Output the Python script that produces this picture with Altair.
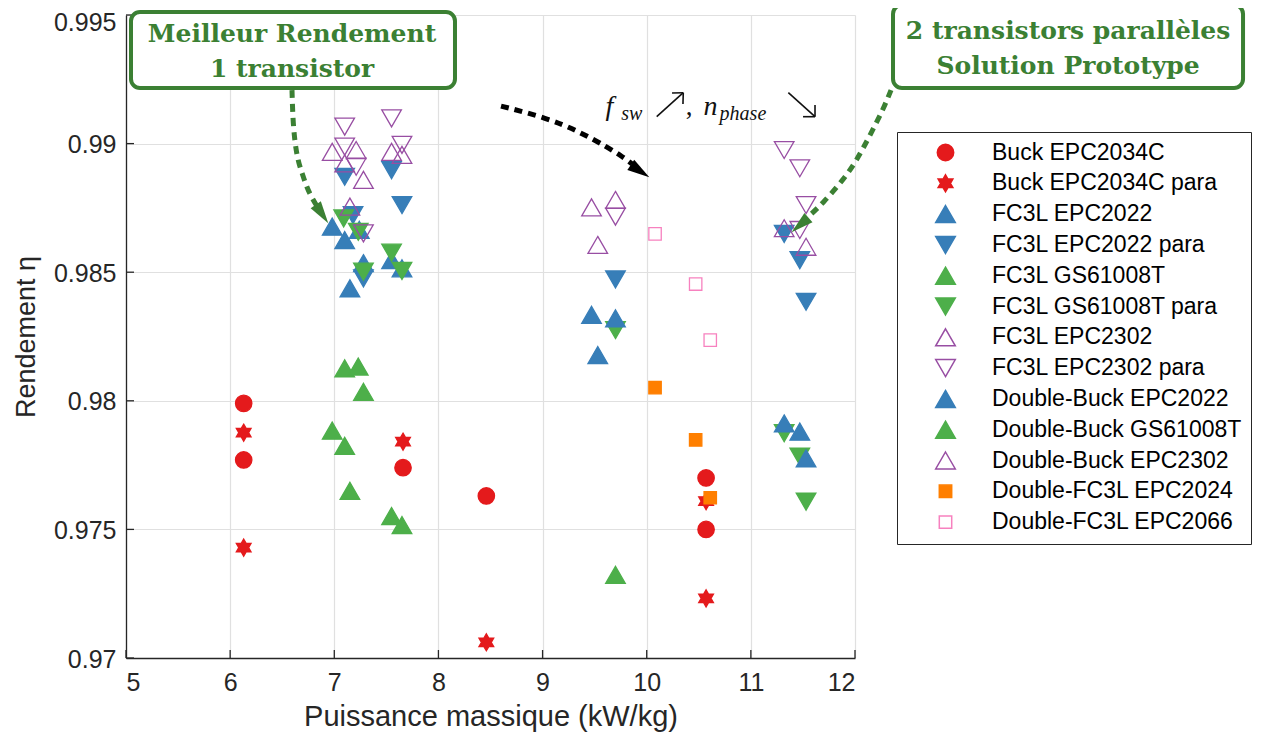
import altair as alt
import pandas as pd

# ---------------- data ----------------
series_names = [
    "Buck EPC2034C", "Buck EPC2034C para", "FC3L EPC2022", "FC3L EPC2022 para",
    "FC3L GS61008T", "FC3L GS61008T para", "FC3L EPC2302", "FC3L EPC2302 para",
    "Double-Buck EPC2022", "Double-Buck GS61008T", "Double-Buck EPC2302",
    "Double-FC3L EPC2024", "Double-FC3L EPC2066",
]

buck_x = [6.13, 6.13, 7.66, 8.46, 10.57, 10.57]
buck_y = [0.9799, 0.9777, 0.9774, 0.9763, 0.9770, 0.9750]
buck_para_x = [6.13, 6.13, 7.66, 8.46, 10.57, 10.57]
buck_para_y = [0.97876, 0.97429, 0.97841, 0.97061, 0.97610, 0.97232]
fc3l_2022_x = [6.98, 7.10, 7.24, 7.28, 7.15, 7.55, 7.65]
fc3l_2022_y = [0.98677, 0.98625, 0.98665, 0.98535, 0.98437, 0.98547, 0.98515]
fc3l_2022p_x = [7.10, 7.55, 7.65, 7.18, 7.28, 9.70, 11.32, 11.47, 11.53]
fc3l_2022p_y = [0.98871, 0.98897, 0.98761, 0.98722, 0.98476, 0.98472, 0.98649, 0.98547, 0.98385]
fc3l_gs_x = [7.10, 7.23, 7.28, 6.98, 7.10, 7.15, 7.55, 7.65]
fc3l_gs_y = [0.98126, 0.98133, 0.98035, 0.97884, 0.97825, 0.97650, 0.97552, 0.97517]
fc3l_gsp_x = [7.09, 7.23, 7.28, 7.55, 7.65, 9.70, 11.32, 11.47, 11.53]
fc3l_gsp_y = [0.98709, 0.98657, 0.98502, 0.98576, 0.98505, 0.98275, 0.97874, 0.97783, 0.97608]
fc3l_2302_x = [6.98, 7.21, 7.10, 7.28, 7.55, 7.65, 7.15]
fc3l_2302_y = [0.98968, 0.98975, 0.98923, 0.98859, 0.98968, 0.98956, 0.98755]
fc3l_2302p_x = [7.10, 7.55, 7.10, 7.21, 7.65, 7.28, 9.70, 11.32, 11.47, 11.53, 11.47]
fc3l_2302p_y = [0.99066, 0.99098, 0.98988, 0.98910, 0.98995, 0.98651, 0.98716, 0.98975, 0.98904, 0.98761, 0.98664]
db_2022_x = [9.47, 9.70, 9.53, 11.32, 11.47, 11.53]
db_2022_y = [0.98334, 0.98321, 0.98178, 0.97912, 0.97880, 0.97776]
db_gs_x = [9.70]
db_gs_y = [0.97323]
db_2302_x = [9.47, 9.70, 9.53, 11.32, 11.53]
db_2302_y = [0.98752, 0.98781, 0.98606, 0.98671, 0.98599]
dfc_2024_x = [10.08, 10.47, 10.61]
dfc_2024_y = [0.98051, 0.97848, 0.97623]
dfc_2066_x = [10.08, 10.47, 10.61]
dfc_2066_y = [0.98649, 0.98454, 0.98236]

x_ticks = [5, 6, 7, 8, 9, 10, 11, 12]
y_ticks = [0.97, 0.975, 0.98, 0.985, 0.99, 0.995]

all_x = [buck_x, buck_para_x, fc3l_2022_x, fc3l_2022p_x, fc3l_gs_x, fc3l_gsp_x,
         fc3l_2302_x, fc3l_2302p_x, db_2022_x, db_gs_x, db_2302_x, dfc_2024_x, dfc_2066_x]
all_y = [buck_y, buck_para_y, fc3l_2022_y, fc3l_2022p_y, fc3l_gs_y, fc3l_gsp_y,
         fc3l_2302_y, fc3l_2302p_y, db_2022_y, db_gs_y, db_2302_y, dfc_2024_y, dfc_2066_y]

# ---------------- styles ----------------
RED, BLUE, GREEN, PURPLE, ORANGE, PINK = "#e41a1c", "#377eb8", "#4daf4a", "#984ea3", "#ff7f00", "#f781bf"
DKGREEN = "#3b8033"

CIRCLE = "M0.82,0A0.82,0.82,0,1,1,-0.82,0A0.82,0.82,0,1,1,0.82,0Z"
HEXA = ("M0,-0.85L0.245,-0.425L0.736,-0.425L0.491,0L0.736,0.425L0.245,0.425"
        "L0,0.85L-0.245,0.425L-0.736,0.425L-0.491,0L-0.736,-0.425L-0.245,-0.425Z")
TUP = "M0,-0.85L0.98,0.85L-0.98,0.85Z"
TDN = "M0,0.85L0.98,-0.85L-0.98,-0.85Z"
SQ = "M-0.62,-0.62L0.62,-0.62L0.62,0.62L-0.62,0.62Z"

shapes = [CIRCLE, HEXA, TUP, TDN, TUP, TDN, TUP, TDN, TUP, TUP, TUP, SQ, SQ]
strokes = [RED, RED, BLUE, BLUE, GREEN, GREEN, PURPLE, PURPLE, BLUE, GREEN, PURPLE, ORANGE, PINK]
fills = [RED, RED, BLUE, BLUE, GREEN, GREEN, "transparent", "transparent", BLUE, GREEN,
         "transparent", ORANGE, "transparent"]

rows = []
for name, xs, ys in zip(series_names, all_x, all_y):
    for xv, yv in zip(xs, ys):
        rows.append({"series": name, "x": xv, "y": yv})
df = pd.DataFrame(rows)

FONT = "Liberation Sans"
TXT = "#262626"
XTITLE = "Puissance massique (kW/kg)"
YTITLE = "Rendement η"
xsc = alt.Scale(domain=[5, 12], nice=False, zero=False)
ysc = alt.Scale(domain=[0.97, 0.995], nice=False, zero=False)
xaxis = alt.Axis(values=x_ticks, format="d", labelFont=FONT, labelFontSize=25,
                 labelColor=TXT, titleFont=FONT, titleFontSize=29,
                 titleFontWeight="normal", titleColor=TXT, tickSize=0,
                 labelPadding=12, titlePadding=7, domainColor=TXT,
                 domainWidth=1.3, gridColor="#e0e0e0", gridWidth=1.2)
yaxis = alt.Axis(values=y_ticks, format=".3~f", labelFont=FONT, labelFontSize=25,
                 labelColor=TXT, titleFont=FONT, titleFontSize=27,
                 titleFontWeight="normal", titleColor=TXT, tickSize=0,
                 labelOffset={"condition": {"test": "datum.value >= 0.994", "value": 7}, "value": 1},
                 labelPadding=10, titlePadding=13, domainColor=TXT,
                 domainWidth=1.3, gridColor="#e0e0e0", gridWidth=1.2)


def X(field):
    return alt.X(field, scale=xsc, axis=xaxis, title=XTITLE)


def Y(field):
    return alt.Y(field, scale=ysc, axis=yaxis, title=YTITLE)


leg = alt.Legend(
    orient="none", legendX=771, legendY=117, title=None, direction="vertical",
    labelFont=FONT, labelFontSize=23, labelColor="#000000", labelLimit=500,
    strokeColor=TXT, fillColor="white", padding=9, rowPadding=6.8,
    symbolOffset=28, labelOffset=35, symbolSize=400, symbolStrokeWidth=1.5,
)

points = alt.Chart(df).mark_point(opacity=1, strokeWidth=1.3, size=400).encode(
    x=X("x:Q"), y=Y("y:Q"),
    shape=alt.Shape("series:N", scale=alt.Scale(domain=series_names, range=shapes), legend=leg),
    fill=alt.Fill("series:N", scale=alt.Scale(domain=series_names, range=fills), legend=leg),
    stroke=alt.Stroke("series:N", scale=alt.Scale(domain=series_names, range=strokes), legend=leg),
)

# inward ticks
xt = alt.Chart(pd.DataFrame({"x": x_ticks})).mark_rule(color=TXT, strokeWidth=1.3).encode(
    x=X("x:Q"), y=alt.value(643), y2=alt.value(635))
yt = alt.Chart(pd.DataFrame({"y": y_ticks})).mark_rule(color=TXT, strokeWidth=1.3).encode(
    y=Y("y:Q"), x=alt.value(0), x2=alt.value(8))

# ---------------- annotations ----------------
box_x1 = [5.048, 12.365]
box_x2 = [8.159, 15.726]
box_y1 = [0.99512, 0.99539]
box_y2 = [0.99216, 0.99216]
boxes = alt.Chart(pd.DataFrame({"x": box_x1, "x2": box_x2, "y": box_y1, "y2": box_y2})).mark_rect(
    fill="white", stroke=DKGREEN, strokeWidth=4, cornerRadius=9).encode(
    x=X("x:Q"), x2="x2:Q", y=Y("y:Q"), y2="y2:Q")

box_text = ["Meilleur Rendement", "1 transistor", "2 transistors parallèles", "Solution Prototype"]
box_tx = [6.594, 6.594, 14.046, 14.046]
box_ty = [0.99425, 0.99290, 0.99437, 0.99302]
btext = alt.Chart(pd.DataFrame({"t": box_text, "x": box_tx, "y": box_ty})).mark_text(
    font="DejaVu Serif", fontWeight="bold", fontSize=25, color=DKGREEN,
    align="center", baseline="middle").encode(x=X("x:Q"), y=Y("y:Q"), text="t:N")

# dashed arrows
arr_id = ["a"] * 7 + ["b"] * 6 + ["c"] * 8
arr_x = [6.594, 6.604, 6.642, 6.690, 6.738, 6.796, 6.844,
         8.601, 9.043, 9.359, 9.619, 9.772, 9.859,
         12.346, 12.269, 12.144, 12.019, 11.885, 11.693, 11.568, 11.530]
arr_y = [0.99208, 0.99065, 0.98944, 0.98886, 0.98827, 0.98781, 0.98750,
         0.99146, 0.99100, 0.99045, 0.98987, 0.98948, 0.98921,
         0.99208, 0.99131, 0.99033, 0.98936, 0.98858, 0.98769, 0.98722, 0.98708]
arr_o = list(range(7)) + list(range(6)) + list(range(8))
arr_df = pd.DataFrame({"id": arr_id, "x": arr_x, "y": arr_y, "o": arr_o})
arr_color = alt.Color("id:N", scale=alt.Scale(domain=["a", "b", "c"], range=[DKGREEN, "#000000", DKGREEN]), legend=None)
arrows = alt.Chart(arr_df).mark_line(strokeWidth=5, strokeDash=[8, 6], interpolate="basis").encode(
    x=X("x:Q"), y=Y("y:Q"), detail="id:N", order="o:Q", color=arr_color)

head_x = [6.882, 9.936, 11.472]
head_y = [0.98726, 0.98893, 0.98684]
head_a = [146, 124, 229]
head_id = ["a", "b", "c"]
heads = alt.Chart(pd.DataFrame({"x": head_x, "y": head_y, "a": head_a, "id": head_id})).mark_point(
    shape="M0,-1L0.55,1L-0.55,1Z", size=500, filled=True, opacity=1).encode(
    x=X("x:Q"), y=Y("y:Q"), angle=alt.Angle("a:Q", scale=None), color=arr_color)

# math text: f_sw ↗, n_phase ↘
m_text = ["f", "sw", ",", "n", "phase"]
m_x = [9.605, 9.755, 10.375, 10.545, 10.700]
m_y = [0.99111, 0.99093, 0.99111, 0.99111, 0.99093]
m_size = [28, 20, 27, 28, 20]
m_style = ["italic", "italic", "normal", "italic", "italic"]
mparts = []
for t, xv, yv, s, st in zip(m_text, m_x, m_y, m_size, m_style):
    mparts.append(alt.Chart(pd.DataFrame({"t": [t], "x": [xv], "y": [yv]})).mark_text(
        font="Liberation Serif", fontSize=s, fontStyle=st, color="#111111", align="left",
        baseline="alphabetic").encode(x=X("x:Q"), y=Y("y:Q"), text="t:N"))

# thin math arrows (↗ and ↘) as segments
seg_id = ["u1", "u1", "u2", "u2", "u3", "u3", "d1", "d1", "d2", "d2", "d3", "d3"]
seg_x = [10.096, 10.351, 10.351, 10.243, 10.351, 10.348,
         11.360, 11.616, 11.616, 11.616, 11.616, 11.501]
seg_y = [0.991046, 0.991979, 0.991979, 0.991967, 0.991979, 0.991540,
         0.991979, 0.991046, 0.991046, 0.991501, 0.991046, 0.991046]
seg_o = [0, 1] * 6
segs = alt.Chart(pd.DataFrame({"id": seg_id, "x": seg_x, "y": seg_y, "o": seg_o})).mark_line(
    color="#111111", strokeWidth=1.6).encode(x=X("x:Q"), y=Y("y:Q"), detail="id:N", order="o:Q")

chart = alt.layer(points, xt, yt, arrows, heads, boxes, btext, segs, *mparts).properties(
    width=729, height=643,
    padding={"left": 118, "top": 7, "right": 398, "bottom": 74},
    autosize=alt.AutoSizeParams(type="none"),
).configure_view(stroke=None).resolve_scale(color="independent")

chart.save("out.html", embed_options={"renderer": "svg", "actions": False})
